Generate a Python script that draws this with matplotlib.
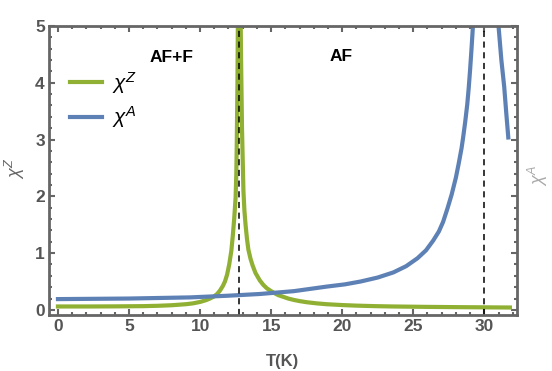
import numpy as np
import matplotlib.pyplot as plt
from matplotlib.ticker import MultipleLocator

plt.rcParams['font.family'] = ['Liberation Sans', 'DejaVu Sans']
plt.rcParams['mathtext.fontset'] = 'custom'
plt.rcParams['mathtext.it'] = 'Liberation Sans:italic'
plt.rcParams['mathtext.rm'] = 'Liberation Sans'

# chi^Z (green)
tz = [0, 2, 4, 6, 7, 8, 9, 9.5, 10, 10.4, 10.7, 11.0, 11.2, 11.4, 11.6, 11.75,
      11.9, 12.05, 12.2, 12.3, 12.4, 12.5, 12.55, 12.58, 12.63, 12.68, 12.75,
      12.82, 12.88, 12.95, 13.05, 13.12, 13.2, 13.3, 13.4, 13.55, 13.7, 13.9,
      14.2, 14.45, 14.7, 15.0, 15.2, 15.5, 15.85, 16.2, 16.6, 17.0, 17.5, 18.2,
      18.9, 20, 21, 22.3, 23.6, 26, 28.3, 30, 31.8]
chi_z = [0.06, 0.06, 0.062, 0.066, 0.072, 0.082, 0.1, 0.115, 0.14, 0.17, 0.2,
         0.24, 0.28, 0.34, 0.42, 0.5, 0.62, 0.8, 1.04, 1.3, 1.6, 1.98, 2.4, 2.9,
         4.0, 5.8, 8.0, 6.0, 4.5, 3.2, 2.1, 1.75, 1.5, 1.25, 1.06, 0.9, 0.78,
         0.65, 0.52, 0.44, 0.38, 0.33, 0.3, 0.26, 0.23, 0.2, 0.175, 0.155, 0.135,
         0.115, 0.1, 0.085, 0.075, 0.066, 0.06, 0.053, 0.048, 0.045, 0.042]

# chi^A (blue), two branches
ta1 = [0, 5, 9.3, 12, 14.2, 16.6, 18.9, 20.2, 21.3, 22.5, 23.6, 24.5, 25.3,
       25.9, 26.4, 26.8, 27.1, 27.4, 27.7, 28.0, 28.2, 28.4, 28.5, 28.65, 28.8,
       28.9, 29.0, 29.1, 29.2, 29.35]
chi_a1 = [0.19, 0.2, 0.22, 0.25, 0.28, 0.33, 0.41, 0.45, 0.5, 0.57, 0.66, 0.77,
          0.91, 1.05, 1.22, 1.38, 1.55, 1.78, 2.03, 2.33, 2.58, 2.85, 3.02, 3.3,
          3.62, 3.9, 4.23, 4.6, 5.0, 5.8]
ta2 = [30.85, 31.0, 31.2, 31.4, 31.55, 31.7]
chi_a2 = [5.8, 5.0, 4.4, 3.93, 3.45, 3.0]

t_crit = [12.75, 30.0]

green = '#8fb032'
blue = '#5e81b5'
gray = '#666666'

fig = plt.figure(figsize=(5.52, 3.71), dpi=100)
ax = fig.add_axes([49/552, 56/371, 468/552, 289/371])

ax.plot(tz, chi_z, color=green, lw=3.0, label=r'$\chi^Z$')
ax.plot(ta1, chi_a1, color=blue, lw=3.0, label=r'$\chi^A$')
ax.plot(ta2, chi_a2, color=blue, lw=3.0, solid_capstyle='butt')
for t in t_crit:
    ax.axvline(t, color='black', lw=1.1, ls=(0, (4, 3)))

ax.set_xlim(-0.63, 32.3)
ax.set_ylim(-0.09, 5.0)
ax.xaxis.set_major_locator(MultipleLocator(5))
ax.xaxis.set_minor_locator(MultipleLocator(1))
ax.yaxis.set_major_locator(MultipleLocator(1))
ax.yaxis.set_minor_locator(MultipleLocator(0.2))
ax.tick_params(which='both', direction='in', top=True, right=True,
               color=gray, labelcolor='#555555', labelsize=12.5)
ax.tick_params(which='major', length=4.5, width=1.5, pad=3)
ax.tick_params(which='minor', length=2.5, width=1.5)
for lab in ax.get_xticklabels() + ax.get_yticklabels():
    lab.set_fontweight('bold')
for s in ax.spines.values():
    s.set_color(gray)
    s.set_linewidth(2)

ax.set_xlabel('T(K)', color='#555555', fontsize=12, fontweight='bold', labelpad=14)
fig.text(15/552, 1 - 168/371, r'$\chi^Z$', color=gray, fontsize=13,
         rotation=90, ha='center', va='center')
fig.text(538/552, 1 - 175/371, r'$\chi^A$', color='#aaaaaa', fontsize=13,
         rotation=90, ha='center', va='center')

ax.text(7.96, 4.45, 'AF+F', fontsize=12.5, fontweight='bold', ha='center', va='center')
ax.text(19.9, 4.47, 'AF', fontsize=12.5, fontweight='bold', ha='center', va='center')

ax.legend(loc='upper left', bbox_to_anchor=(0.0, 0.92), frameon=False,
          fontsize=15, handlelength=1.55, handletextpad=0.45, labelspacing=0.4,
          borderaxespad=0.6)

fig.savefig('out.png', dpi=100)
